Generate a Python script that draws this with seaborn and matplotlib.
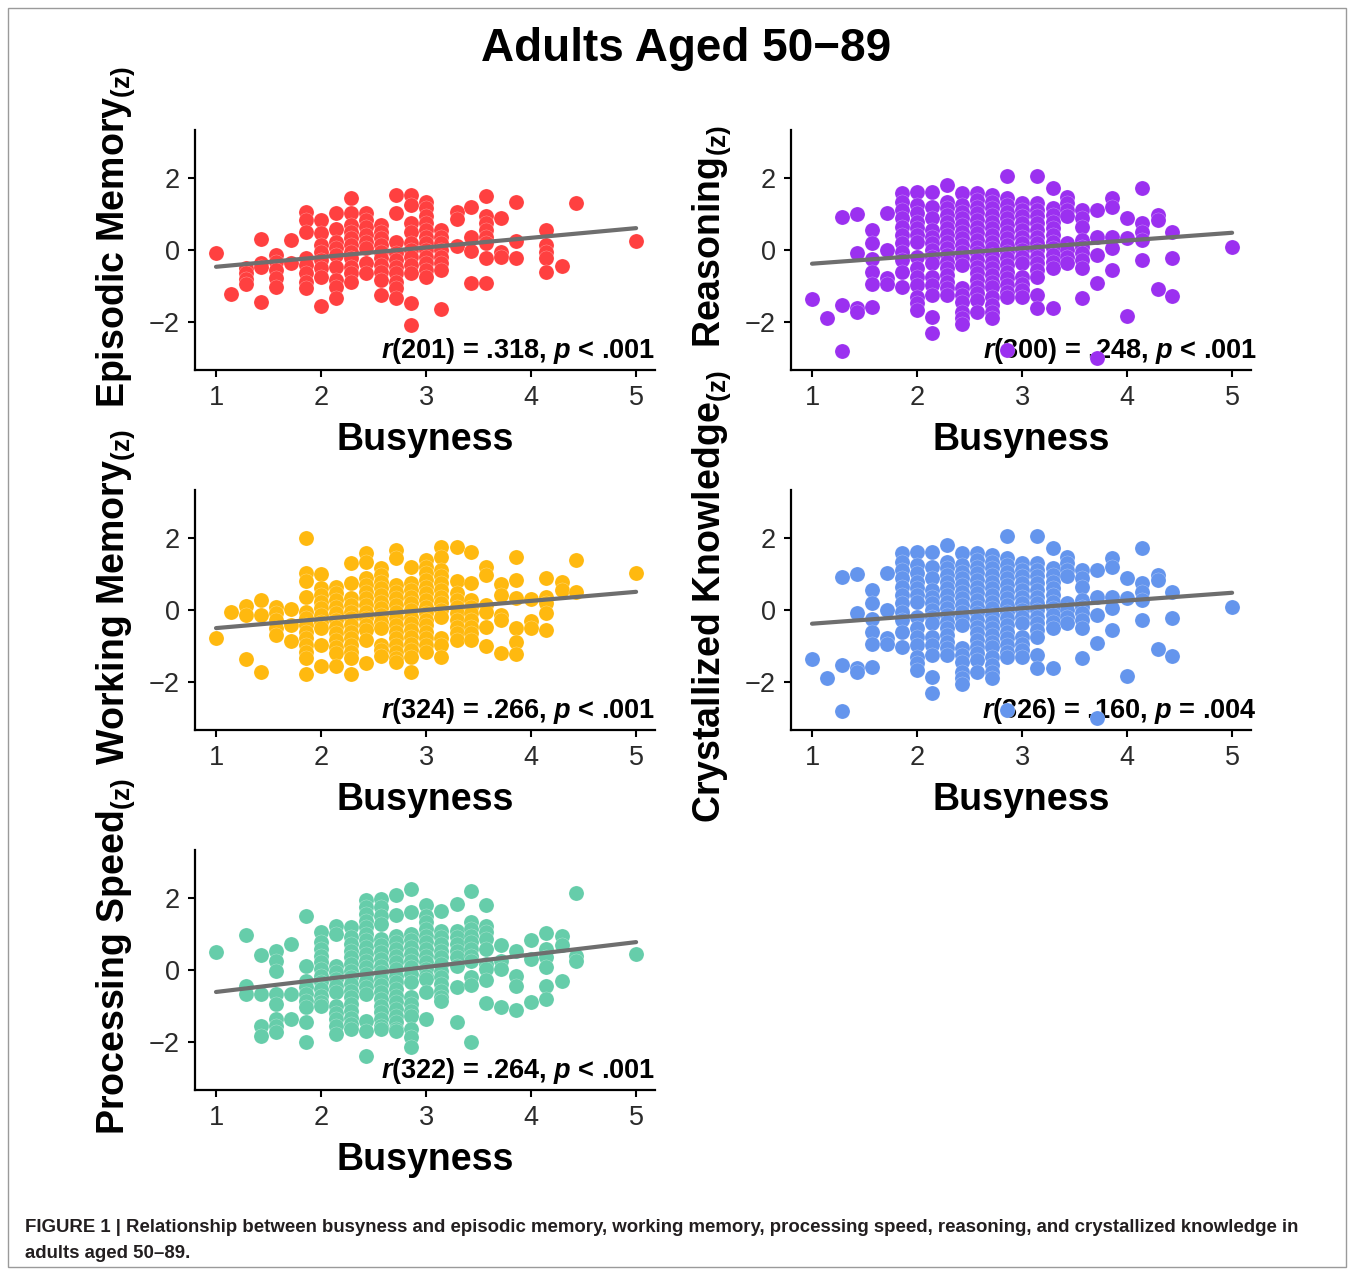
import pandas as pd
import matplotlib
matplotlib.use("Agg")
import matplotlib.pyplot as plt
import seaborn as sns
from matplotlib.patches import Rectangle

# ---- data (busyness level -> z-scores in that column) ----
ep_x = [1.00, 1.14, 1.29, 1.43, 1.57, 1.71, 1.86, 2.00, 2.14, 2.29, 2.43, 2.57, 2.71, 2.86,
        3.00, 3.14, 3.29, 3.43, 3.57, 3.71, 3.86, 4.14, 4.29, 4.43, 5.00]
ep_z = [
    [-0.09],
    [-1.23],
    [-0.51, -0.65, -0.80, -0.93],
    [0.30, -0.35, -0.46, -1.44],
    [-0.14, -0.32, -0.56, -0.79, -1.02],
    [0.28, -0.37],
    [1.06, 0.83, 0.51, -0.23, -0.42, -0.65, -0.88, -1.06],
    [0.83, 0.46, 0.14, -0.05, -0.28, -0.51, -0.74, -1.56],
    [1.02, 0.57, 0.23, 0.05, -0.14, -0.46, -0.83, -1.02, -1.34],
    [1.44, 1.02, 0.69, 0.51, 0.32, 0.14, -0.05, -0.23, -0.46, -0.65, -0.88],
    [1.02, 0.83, 0.65, 0.42, 0.23, 0.05, -0.37, -0.65],
    [0.69, 0.51, 0.32, 0.14, -0.05, -0.23, -0.42, -0.60, -0.83, -1.25],
    [1.53, 1.02, 0.23, -0.09, -0.28, -0.46, -0.65, -0.88, -1.06, -1.34],
    [1.53, 1.25, 0.74, 0.51, 0.19, 0.00, -0.19, -0.42, -0.65, -1.46, -2.08],
    [1.34, 1.16, 0.93, 0.74, 0.56, 0.37, 0.19, 0.00, -0.19, -0.37, -0.56, -0.74],
    [0.56, 0.37, 0.19, 0.00, -0.19, -0.37, -0.56, -1.65],
    [1.06, 0.85, 0.11],
    [1.18, 0.35, -0.02, -0.91],
    [1.51, 0.93, 0.74, 0.56, 0.37, 0.19, -0.23, -0.91],
    [0.90, -0.05, -0.19],
    [1.32, 0.26, -0.23],
    [0.56, 0.14, -0.05, -0.23, -0.60],
    [-0.44],
    [1.30],
    [0.26],
]

wm_x = [1.00, 1.14, 1.29, 1.43, 1.57, 1.71, 1.86, 2.00, 2.14, 2.29, 2.43, 2.57, 2.71, 2.86,
        3.00, 3.14, 3.29, 3.43, 3.57, 3.71, 3.86, 4.00, 4.14, 4.29, 4.43, 5.00]
wm_z = [
    [-0.77],
    [-0.05],
    [0.11, -0.14, -1.36],
    [0.28, -0.14, -1.73],
    [0.09, -0.09, -0.28, -0.49, -0.69],
    [0.02, -0.42, -0.86],
    [1.99, 1.02, 0.81, 0.35, -0.05, -0.23, -0.42, -0.60, -0.79, -0.97, -1.16, -1.34, -1.78],
    [0.99, 0.60, 0.42, 0.23, 0.05, -0.14, -0.32, -0.51, -0.97, -1.55],
    [0.65, 0.46, 0.28, 0.09, -0.09, -0.28, -0.46, -0.65, -0.83, -1.02, -1.20, -1.55],
    [1.30, 0.74, 0.32, 0.14, -0.05, -0.23, -0.42, -0.60, -0.79, -0.97, -1.16, -1.34, -1.78],
    [1.57, 1.34, 0.88, 0.69, 0.51, 0.32, 0.14, -0.05, -0.23, -0.42, -0.56, -0.83, -1.46],
    [1.16, 0.97, 0.79, 0.60, 0.42, 0.23, 0.05, -0.14, -0.32, -0.51, -0.97, -1.10, -1.28],
    [1.67, 1.44, 0.69, 0.51, 0.32, 0.14, -0.05, -0.23, -0.42, -0.60, -0.79, -0.97, -1.16, -1.34, -1.44],
    [1.19, 0.74, 0.56, 0.37, 0.19, 0.00, -0.19, -0.37, -0.56, -0.74, -0.93, -1.11, -1.30, -1.71],
    [1.39, 1.20, 1.02, 0.83, 0.65, 0.46, 0.28, 0.09, -0.09, -0.28, -0.42, -0.60, -0.79, -0.97, -1.16],
    [1.74, 1.48, 1.11, 0.93, 0.74, 0.56, 0.37, 0.19, 0.00, -0.19, -0.79, -0.97, -1.30],
    [1.74, 0.81, 0.46, 0.28, 0.09, -0.09, -0.28, -0.46, -0.65, -0.83],
    [1.62, 0.74, 0.28, 0.09, -0.09, -0.28, -0.46, -0.65, -0.83],
    [1.20, 0.97, 0.14, -0.05, -0.46, -1.00],
    [0.72, 0.42, -0.14, -0.28, -1.20],
    [1.46, 0.83, 0.32, -0.49, -0.88, -1.23],
    [0.30, -0.31, -0.51],
    [0.88, 0.37, 0.19, -0.07, -0.56],
    [0.79, 0.56],
    [1.39, 0.51],
    [1.02],
]

ps_x = [1.00, 1.29, 1.43, 1.57, 1.71, 1.86, 2.00, 2.14, 2.29, 2.43, 2.57, 2.71, 2.86,
        3.00, 3.14, 3.29, 3.43, 3.57, 3.71, 3.86, 4.00, 4.14, 4.29, 4.43, 5.00]
ps_z = [
    [0.51],
    [0.97, -0.45, -0.67],
    [0.42, -0.67, -1.55, -1.84],
    [0.54, 0.26, -0.02, -0.67, -0.94, -1.36, -1.55, -1.73],
    [0.72, -0.67, -1.36],
    [1.51, 0.12, -0.30, -0.48, -0.67, -0.85, -1.04, -1.45, -1.99],
    [1.05, 0.77, 0.58, 0.40, 0.21, 0.03, -0.16, -0.34, -0.53, -0.71, -0.90, -0.99],
    [1.23, 1.00, 0.12, -0.06, -0.25, -0.44, -0.62, -0.99, -1.18, -1.36, -1.55, -1.78],
    [1.19, 0.91, 0.72, 0.54, 0.35, 0.17, -0.02, -0.20, -0.39, -0.57, -0.76, -0.94, -1.13, -1.32, -1.50, -1.64],
    [1.93, 1.74, 1.56, 1.37, 1.19, 1.00, 0.82, 0.63, 0.45, 0.26, 0.08, -0.11, -0.30, -0.48, -0.67,
     -1.41, -1.69, -2.38],
    [1.97, 1.74, 1.51, 1.28, 0.86, 0.68, 0.49, 0.31, 0.12, -0.06, -0.25, -0.43, -0.62, -0.80, -0.99,
     -1.17, -1.36, -1.55, -1.64],
    [2.08, 1.53, 0.95, 0.77, 0.58, 0.40, 0.21, 0.03, -0.16, -0.34, -0.53, -0.71, -0.90, -1.08, -1.27,
     -1.45, -1.64, -1.69],
    [2.25, 1.60, 1.00, 0.82, 0.63, 0.45, 0.26, 0.08, -0.11, -0.34, -0.76, -0.94, -1.13, -1.27,
     -1.64, -1.87, -2.15],
    [1.81, 1.51, 1.32, 1.14, 0.95, 0.77, 0.58, 0.40, 0.21, 0.03, -0.16, -0.25, -0.62, -1.37],
    [1.63, 1.09, 0.91, 0.72, 0.54, 0.35, 0.17, -0.02, -0.20, -0.39, -0.57, -0.76, -0.85],
    [1.83, 1.09, 0.91, 0.72, 0.54, 0.35, 0.12, -0.48, -1.45],
    [2.20, 1.32, 1.14, 0.95, 0.77, 0.58, 0.40, 0.26, -0.20, -0.42, -1.99],
    [1.79, 1.23, 1.05, 0.86, 0.58, 0.17, 0.03, -0.27, -0.92],
    [0.68, 0.26, 0.03, -1.02],
    [0.54, -0.16, -0.44, -1.11],
    [0.84, 0.31, -0.90],
    [1.03, 0.58, 0.35, 0.07, -0.44, -0.81],
    [0.94, 0.68, -0.30],
    [2.14, 0.40, 0.26],
    [0.44],
]

# reasoning and crystallized knowledge panels show the same point cloud in the figure
rs_x = [1.00, 1.14, 1.29, 1.43, 1.57, 1.71, 1.86, 2.00, 2.14, 2.29, 2.43, 2.57, 2.71, 2.86,
        3.00, 3.14, 3.29, 3.43, 3.57, 3.71, 3.86, 4.00, 4.14, 4.29, 4.43, 5.00]
rs_z = [
    [-1.36],
    [-1.90],
    [0.91, -1.53, -2.80],
    [0.99, -0.09, -1.62, -1.71],
    [0.56, 0.20, -0.26, -0.60, -0.93, -1.57],
    [1.02, 0.00, -0.79, -0.93],
    [1.57, 1.34, 1.11, 0.88, 0.65, 0.42, 0.19, -0.05, -0.28, -0.60, -1.02],
    [1.62, 1.25, 1.02, 0.79, 0.60, 0.42, 0.23, -0.19, -0.51, -0.74, -0.97, -1.30, -1.48, -1.67],
    [1.62, 1.20, 0.88, 0.56, 0.37, 0.19, 0.00, -0.19, -0.37, -0.74, -0.97, -1.25, -1.85, -2.29],
    [1.81, 1.34, 1.16, 0.97, 0.79, 0.60, 0.42, 0.23, 0.05, -0.14, -0.32, -0.51, -0.69, -0.88, -1.06, -1.25],
    [1.59, 1.25, 1.06, 0.88, 0.69, 0.51, 0.32, 0.14, -0.05, -0.23, -0.42, -1.06, -1.25, -1.44,
     -1.71, -1.90, -2.06],
    [1.57, 1.39, 1.20, 1.02, 0.83, 0.65, 0.46, 0.28, 0.09, -0.09, -0.28, -0.46, -0.65, -0.83, -1.02,
     -1.20, -1.39, -1.71],
    [1.53, 1.34, 1.16, 0.97, 0.79, 0.60, 0.42, 0.23, 0.05, -0.14, -0.32, -0.51, -0.69, -0.88, -1.02,
     -1.30, -1.53, -1.71, -1.90],
    [2.04, 1.44, 1.25, 1.06, 0.88, 0.69, 0.51, 0.32, 0.14, -0.05, -0.23, -0.42, -0.60, -0.79, -0.97,
     -1.16, -1.30, -2.78],
    [1.30, 1.11, 0.93, 0.74, 0.56, 0.37, 0.19, 0.00, -0.19, -0.37, -0.74, -0.93, -1.11, -1.30],
    [2.04, 1.30, 1.11, 0.93, 0.74, 0.56, 0.37, 0.19, 0.00, -0.19, -0.37, -0.56, -0.74, -1.25, -1.62],
    [1.71, 1.16, 0.97, 0.79, 0.60, 0.42, 0.23, 0.05, -0.14, -0.32, -0.51, -1.62],
    [1.48, 1.30, 1.11, 0.93, 0.19, 0.00, -0.19, -0.37],
    [1.11, 0.88, 0.65, 0.28, 0.09, -0.09, -0.28, -0.51, -1.32],
    [1.11, 0.37, -0.14, -0.91, -3.00],
    [1.44, 1.20, 0.37, 0.05, -0.56],
    [0.88, 0.32, -1.83],
    [1.71, 0.74, 0.51, 0.28, -0.28],
    [0.97, 0.83, -1.09],
    [0.51, -0.21, -1.28],
    [0.07],
]
ck_x = list(rs_x)
ck_z = [list(col) for col in rs_z]

panel_names = ["Episodic Memory", "Reasoning", "Working Memory", "Crystallized Knowledge", "Processing Speed"]
panel_colors = ["#FF4040", "#9B30F0", "#FFB90F", "#6495ED", "#66CDAA"]
panel_stats = ["$r$(201) = .318, $p$ < .001", "$r$(300) = .248, $p$ < .001",
               "$r$(324) = .266, $p$ < .001", "$r$(326) = .160, $p$ = .004",
               "$r$(322) = .264, $p$ < .001"]
panel_data = [(ep_x, ep_z), (rs_x, rs_z), (wm_x, wm_z), (ck_x, ck_z), (ps_x, ps_z)]


def to_frame(xs, zs):
    rows = [(x, z) for x, col in zip(xs, zs) for z in col]
    return pd.DataFrame(rows, columns=["busyness", "z"])


sns.set_style("ticks")
plt.rcParams["font.family"] = ["Liberation Sans", "DejaVu Sans"]
plt.rcParams["text.color"] = "black"
plt.rcParams["axes.labelcolor"] = "black"
plt.rcParams["mathtext.fontset"] = "custom"
plt.rcParams["mathtext.rm"] = "Liberation Sans:bold"
plt.rcParams["mathtext.it"] = "Liberation Sans:bold:italic"
plt.rcParams["mathtext.bf"] = "Liberation Sans:bold"

W, H = 1354, 1273
fig = plt.figure(figsize=(W / 100, H / 100), dpi=100)

# panel boxes in pixels: left, top
boxes = [(195, 130), (791, 130), (195, 490), (791, 490), (195, 850)]
for i, (name, color, stat, (xs, zs)) in enumerate(zip(panel_names, panel_colors, panel_stats, panel_data)):
    left, top = boxes[i]
    ax = fig.add_axes([left / W, 1 - (top + 240) / H, 460 / W, 240 / H])
    df = to_frame(xs, zs)
    sns.scatterplot(data=df, x="busyness", y="z", color=color, s=118, edgecolor="white",
                    linewidth=0.15, ax=ax, zorder=3)
    sns.regplot(data=df, x="busyness", y="z", scatter=False, ci=None, ax=ax,
                line_kws=dict(color="#6E6E6E", lw=3, zorder=4))
    ax.set_xlim(0.8, 5.18)
    ax.set_ylim(-3.33, 3.33)
    ax.set_xticks([1, 2, 3, 4, 5])
    ax.set_yticks([-2, 0, 2])
    sns.despine(ax=ax)
    for sp in ["left", "bottom"]:
        ax.spines[sp].set_linewidth(1.6)
        ax.spines[sp].set_color("black")
    ax.tick_params(length=5, width=1.5, labelsize=19.5, labelcolor="#2B2B2B", color="black", pad=6)
    ax.set_xlabel("Busyness", fontsize=27, fontweight="bold", labelpad=8)
    ax.set_ylabel(name + r"$_{\mathbf{(z)}}$", fontsize=27, fontweight="bold")
    ax.yaxis.set_label_coords(-0.127, 0.555)
    xr = 1.0 if i % 2 == 0 else 1.013
    ax.text(xr, 0.08, stat, transform=ax.transAxes, ha="right", va="center",
            fontsize=19.5, fontweight="bold", zorder=2)

fig.text(0.507, 1 - 49 / H, "Adults Aged 50\u221289", ha="center", va="center",
         fontsize=33, fontweight="bold")

fig.text(25 / W, 1 - 1228 / H,
         "FIGURE 1 | Relationship between busyness and episodic memory, working memory, processing speed, "
         "reasoning, and crystallized knowledge in",
         ha="left", va="center", fontsize=13.4, fontweight="bold", color="#231F20")
fig.text(25 / W, 1 - 1254 / H, "adults aged 50\u201389.", ha="left", va="center",
         fontsize=13.4, fontweight="bold", color="#231F20")

fig.patches.append(Rectangle((8 / W, 6 / H), 1338 / W, 1259 / H, transform=fig.transFigure,
                             fill=False, edgecolor="#9A9A9A", lw=1))

fig.savefig("out.png", dpi=100)
